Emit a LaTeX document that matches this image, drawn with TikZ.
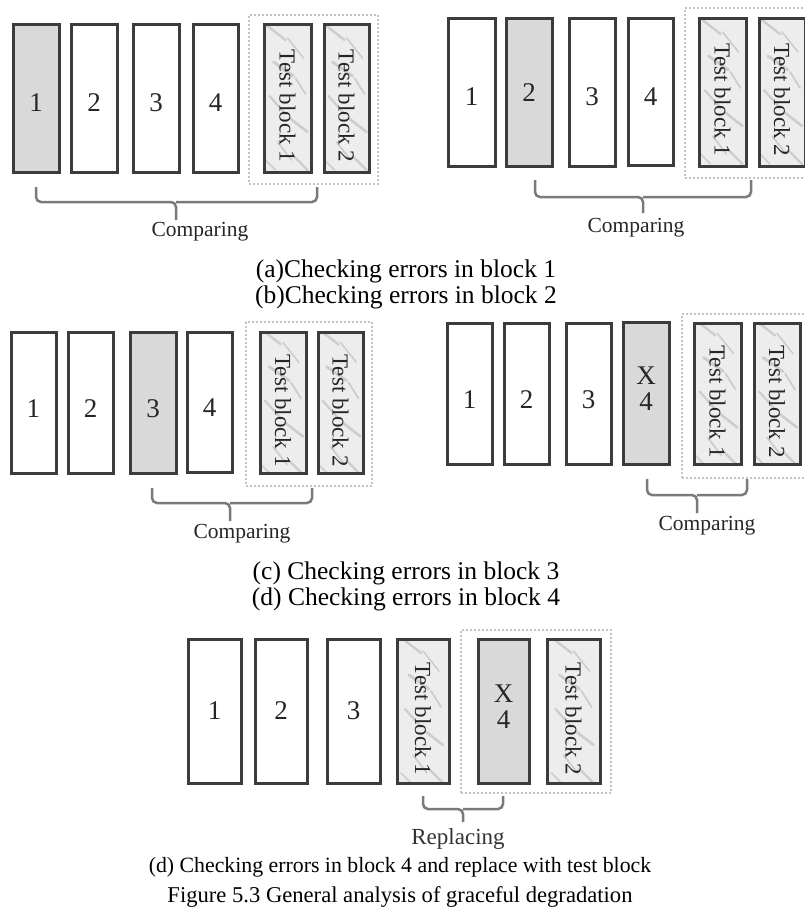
\documentclass[tikz,border=0pt]{standalone}
\usepackage{fontspec}
\usepackage{graphicx}
\setmainfont{Liberation Serif}
\usetikzlibrary{calc}
\definecolor{edge}{HTML}{3C3C3C}
\definecolor{bracec}{HTML}{7A7A7A}
\definecolor{dotc}{HTML}{C4C4C4}
\newcommand\bk[7]{%
  \node[#1, minimum width={#5-#3}, minimum height={#6-#4}] (#2) at ({(#3+#5)/2},{(#4+#6)/2}) {#7};}
\newcommand\lo[2]{\raisebox{-#1pt}[\height][\depth]{#2}}
\newcommand\tb[1]{\lo{8}{\rotatebox{-90}{#1}}}
\newcommand\xf{\lo{-4}{\shortstack{X\\[5pt]4}}}
\newcommand\brc[6]{%
  \draw[bracestyle] (#1,#3) -- (#1,#4) -- (#5,#4) -- (#5,#6) (#2,#3) -- (#2,#4) -- (#5,#4);}
\begin{document}
\begin{tikzpicture}[x=1pt,y=-1pt,
  blkbase/.style={draw=edge, line width=3pt, inner sep=0pt, text=black!85,
     font=\fontsize{27}{27}\selectfont},
  plainblk/.style={blkbase, fill=white},
  selblk/.style={blkbase, fill=black!15},
  testblk/.style={blkbase, fill=black!7, font=\fontsize{23}{23}\selectfont,
     path picture={
       \foreach \dx/\dy/\lx/\ly/\w in {-20/-72/18/14/2.4, 0/-60/16/20/1.6, -14/-36/20/14/2.8, 8/-20/10/16/1.8, -18/-2/16/18/2.2, 2/20/18/14/2.6, -10/44/14/18/1.8, 6/58/14/14/2.4, -22/62/10/10/1.6}{
         \draw[black!45, line width=\w pt, opacity=.32, line cap=round]
           ([shift={(\dx,\dy)}]path picture bounding box.center) -- ++(\lx,\ly);
       }}},
  dotbox/.style={draw=dotc, line width=2pt, dash pattern=on 2pt off 2pt},
  bracestyle/.style={draw=bracec, line width=2.5pt, rounded corners=5pt},
  cmptext/.style={text=black!85, font=\fontsize{21.5}{21.5}\selectfont},
  captext/.style={text=black, inner sep=0pt, font=\fontsize{25.5}{25.5}\selectfont},
  fcaptext/.style={text=black, inner sep=0pt, font=\fontsize{21.8}{21.8}\selectfont}
]
\useasboundingbox[fill=white] (0,0) rectangle (804,913);

% ---------- panel (a)
\bk{dotbox}{aD}{249}{15}{378}{184}{}
\bk{selblk}{a1}{13}{24}{59}{172}{\lo{5}{1}}
\bk{plainblk}{a2}{71}{24}{117}{172}{\lo{5}{2}}
\bk{plainblk}{a3}{133}{24}{179}{172}{\lo{5}{3}}
\bk{plainblk}{a4}{193}{24}{238}{172}{\lo{5}{4}}
\bk{testblk}{aT1}{264}{24}{311}{172}{\tb{Test block 1}}
\bk{testblk}{aT2}{324}{24}{369}{172}{\tb{Test block 2}}
\brc{36}{317}{187}{202}{176}{220}
\node[cmptext] (aC) at (200,232) {Comparing};

% ---------- panel (b)
\bk{dotbox}{bD}{685}{8}{815}{178}{}
\bk{plainblk}{b1}{448}{18}{495}{166}{\lo{5}{1}}
\bk{selblk}{b2}{506}{18}{552}{166}{\lo{1}{2}}
\bk{plainblk}{b3}{569}{18}{615}{166}{\lo{5}{3}}
\bk{plainblk}{b4}{628}{18}{673}{165}{\lo{5}{4}}
\bk{testblk}{bT1}{699}{18}{746}{166}{\tb{Test block 1}}
\bk{testblk}{bT2}{759}{18}{805}{166}{\tb{Test block 2}}
\brc{535}{751}{180}{197}{643}{213}
\node[cmptext] (bC) at (636,228) {Comparing};

\node[captext] (capA) at (406,271) {(a)Checking errors in block 1};
\node[captext] (capB) at (406,297) {(b)Checking errors in block 2};

% ---------- panel (c)
\bk{dotbox}{cD}{246}{322}{372}{486}{}
\bk{plainblk}{c1}{11}{332}{56}{473}{\lo{6}{1}}
\bk{plainblk}{c2}{68}{332}{113}{473}{\lo{6}{2}}
\bk{selblk}{c3}{130}{332}{176}{473}{\lo{6}{3}}
\bk{plainblk}{c4}{187}{332}{232}{472}{\lo{6}{4}}
\bk{testblk}{cT1}{260}{332}{306}{473}{\tb{Test block 1}}
\bk{testblk}{cT2}{318}{332}{363}{473}{\tb{Test block 2}}
\brc{152}{312}{488}{503}{230}{521}
\node[cmptext] (cC) at (242,534) {Comparing};

% ---------- panel (d)
\bk{dotbox}{dD}{682}{314}{815}{478}{}
\bk{plainblk}{d1}{447}{323}{492}{464}{\lo{6}{1}}
\bk{plainblk}{d2}{504}{323}{549}{464}{\lo{6}{2}}
\bk{plainblk}{d3}{566}{323}{611}{464}{\lo{6}{3}}
\bk{selblk}{d4}{623}{322}{669}{464}{\xf}
\bk{testblk}{dT1}{694}{323}{741}{464}{\tb{Test block 1}}
\bk{testblk}{dT2}{754}{323}{800}{464}{\tb{Test block 2}}
\brc{647}{747}{479}{495}{697}{513}
\node[cmptext] (dC) at (707,526) {Comparing};

\node[captext] (capC) at (406,573) {(c) Checking errors in block 3};
\node[captext] (capD) at (406,599) {(d) Checking errors in block 4};

% ---------- panel (e)
\bk{dotbox}{eD}{461}{630}{611}{793}{}
\bk{plainblk}{e1}{188}{639}{241}{783}{1}
\bk{plainblk}{e2}{255}{639}{307}{783}{2}
\bk{plainblk}{e3}{327}{639}{380}{783}{3}
\bk{testblk}{eT1}{397}{639}{449}{783}{\tb{Test block 1}}
\bk{selblk}{e4}{478}{639}{529}{783}{\xf}
\bk{testblk}{eT2}{547}{639}{600}{783}{\tb{Test block 2}}
\brc{423}{503}{796}{809}{463}{822}
\node[cmptext, font=\fontsize{23}{23}\selectfont, text=black!80] (eC) at (458,839) {Replacing};

\node[fcaptext] (capE) at (400,867) {(d) Checking errors in block 4 and replace with test block};
\node[fcaptext, font=\fontsize{22.6}{22.6}\selectfont] (capF) at (400,897) {Figure 5.3 General analysis of graceful degradation};
\end{tikzpicture}
\end{document}
